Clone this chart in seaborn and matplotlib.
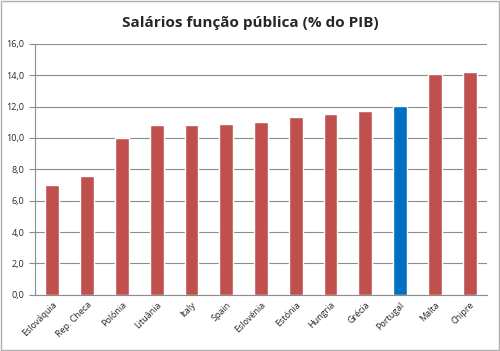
import seaborn as sns
import matplotlib.pyplot as plt
import numpy as np
import pandas as pd

# dados (% do PIB)
paises = ["Eslováquia", "Rep. Checa", "Polónia", "Lituânia", "Italy", "Spain",
          "Eslovénia", "Estónia", "Hungria", "Grécia", "Portugal", "Malta", "Chipre"]
valores = [7.0, 7.6, 10.0, 10.8, 10.85, 10.9, 11.05, 11.35, 11.5, 11.7, 12.05, 14.1, 14.2]
destaque = "Portugal"

df = pd.DataFrame({"pais": paises, "valor": valores})
cores = {p: ("#0070C0" if p == destaque else "#C0504D") for p in paises}

sns.set_style("white")
plt.rcParams["font.family"] = ["Open Sans", "DejaVu Sans"]

fig = plt.figure(figsize=(5, 3.51), dpi=100)
ax = fig.add_axes([0.07, 0.16, 0.904, 0.715])

sns.barplot(data=df, x="pais", y="valor", hue="pais", palette=cores,
            width=0.4, legend=False, ax=ax, saturation=1)

ax.set_ylim(0, 16)
ax.set_xlim(-0.5, len(paises) - 0.5)
ax.set_yticks(np.arange(0, 16.1, 2))
ax.set_yticklabels([f"{v:.1f}".replace(".", ",") for v in np.arange(0, 16.1, 2)],
                   fontsize=6.5)
ax.yaxis.grid(True, color="#8c8c8c", linewidth=0.8)
ax.set_axisbelow(True)

ax.set_xticks(range(len(paises)))
ax.set_xticklabels(paises, rotation=45, ha="right", rotation_mode="anchor", fontsize=6.5)
ax.tick_params(axis="x", length=0, pad=4)
ax.set_xticks(np.arange(-0.5, len(paises), 1), minor=True)
ax.tick_params(axis="x", which="minor", length=4, color="#8c8c8c")
ax.tick_params(axis="y", length=4, color="#8c8c8c", left=True)

for s in ["top", "right"]:
    ax.spines[s].set_visible(False)
for s in ["left", "bottom"]:
    ax.spines[s].set_color("#8c8c8c")
    ax.spines[s].set_linewidth(0.8)

ax.set_xlabel("")
ax.set_ylabel("")
fig.text(0.5, 0.935, "Salários função pública (% do PIB)", ha="center", va="center",
         fontsize=11, fontweight="bold")

# moldura
fig.patches.append(plt.Rectangle((0.002, 0.003), 0.995, 0.993, transform=fig.transFigure,
                                 fill=False, edgecolor="#b0b0b0", linewidth=1))

fig.savefig("out.png", dpi=100)
